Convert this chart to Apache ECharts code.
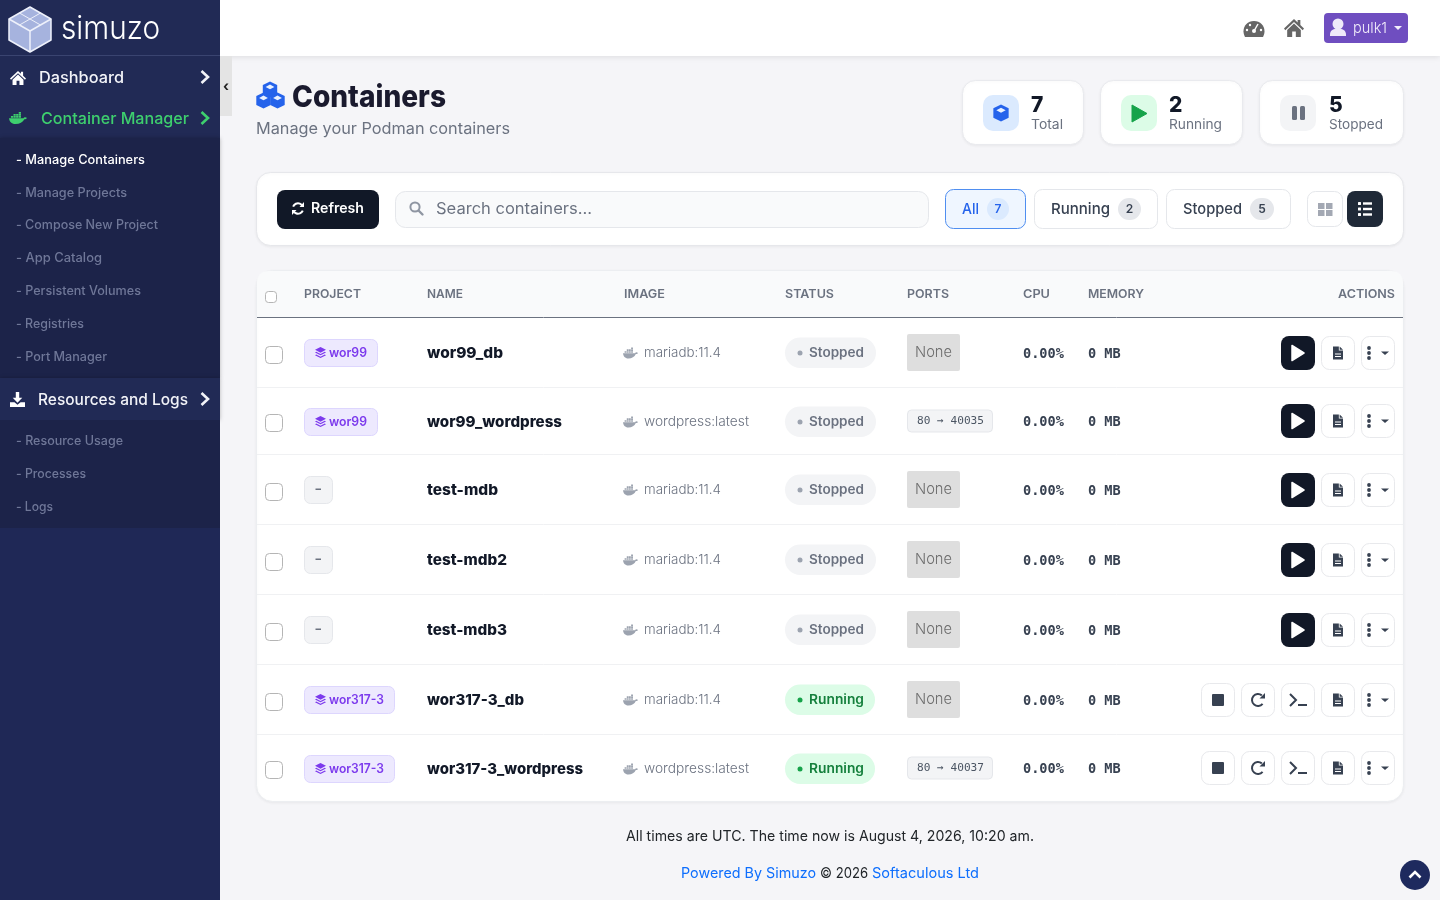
<!DOCTYPE html>
<html><head><meta charset="utf-8">
<style>html,body{margin:0;padding:0;background:#f5f5f8;overflow:hidden}#c{width:1440px;height:900px}</style>
<script src="https://cdn.jsdelivr.net/npm/echarts@6/dist/echarts.min.js"></script>
</head><body><div id="c"></div>
<script>
// ---- data ----
const projects = ['wor99','wor99','-','-','-','wor317-3','wor317-3'];
const names = ['wor99_db','wor99_wordpress','test-mdb','test-mdb2','test-mdb3','wor317-3_db','wor317-3_wordpress'];
const images = ['mariadb:11.4','wordpress:latest','mariadb:11.4','mariadb:11.4','mariadb:11.4','mariadb:11.4','wordpress:latest'];
const statuses = ['Stopped','Stopped','Stopped','Stopped','Stopped','Running','Running'];
const ports = ['None','80 → 40035','None','None','None','None','80 → 40037'];
const cpu = ['0.00%','0.00%','0.00%','0.00%','0.00%','0.00%','0.00%'];
const memory = ['0 MB','0 MB','0 MB','0 MB','0 MB','0 MB','0 MB'];
const columns = ['PROJECT','NAME','IMAGE','STATUS','PORTS','CPU','MEMORY','ACTIONS'];
const subMenuA = ['Manage Containers','Manage Projects','Compose New Project','App Catalog','Persistent Volumes','Registries','Port Manager'];
const subMenuB = ['Resource Usage','Processes','Logs'];
const summaryValues = ['7','2','5'];
const summaryLabels = ['Total','Running','Stopped'];
const filters = ['All','Running','Stopped'];

// ---- layout ----
const rowY = [353,421,490,560,630,700,768];
const textRowY = [352,421,489,559,629,699,768];
const rowLines = [387,454,524,594,664,734];
const nameW = [76,135,71,80,80,97,156];
const columnX = [[304,57],[427,36],[624,41],[785,49],[907,42],[1023,27],[1088,56],[1338,57]];
const subW = {a:[129,111,142,86,125,68,91], b:[107,70,37]};
const subYa = [159,192,224,257,290,323,356], subYb = [440,473,506];

const UI='Inter, "Noto Sans", sans-serif', MONO='"DejaVu Sans Mono", monospace';
const els=[];
const mctx=document.createElement('canvas').getContext('2d');
function add(e){e.silent=true;e.z2=els.length;els.push(e);return e;}
function rect(x0,y0,x1,y1,r,fill,stroke,sh){
  const st={fill:fill||'transparent'};
  if(stroke){st.stroke=stroke;st.lineWidth=1;}
  if(sh){st.shadowBlur=sh[0];st.shadowColor=sh[1];st.shadowOffsetY=sh[2]||0;}
  const o=stroke?0.5:0;
  add({type:'rect',shape:{x:x0+o,y:y0+o,width:x1-x0-2*o,height:y1-y0-2*o,r:r||0},style:st});
}
function txt(s,x,y,o){
  o=o||{};
  const size=o.size||14,weight=o.weight||400,font=o.font||UI;
  let scaleX=1;
  if(o.w){mctx.font=weight+' '+size+'px '+font;scaleX=o.w/mctx.measureText(s).width;}
  add({type:'text',x:x,y:y+1,scaleX:scaleX,originX:0,originY:0,style:{text:s,x:0,y:0,fontSize:size,fontWeight:weight,fontFamily:font,fill:o.color||'#111827',textAlign:o.align||'left',textVerticalAlign:'middle'}});
}
function icon(d,x0,y0,x1,y1,color){
  add({type:'path',shape:{pathData:d,layout:'cover',x:x0,y:y0,width:x1-x0,height:y1-y0},style:{fill:color}});
}
function poly(pts,fill,stroke,lw){
  add({type:'polygon',shape:{points:pts},style:{fill:fill||'transparent',stroke:stroke||null,lineWidth:lw||1,lineJoin:'round'}});
}
function line(x0,y0,x1,y1,c,lw,cap){
  add({type:'line',shape:{x1:x0,y1:y0,x2:x1,y2:y1},style:{stroke:c,lineWidth:lw||1,lineCap:cap||'butt'}});
}
function chevron(cx,cy,c){
  add({type:'polyline',shape:{points:[[cx-3.5,cy-6],[cx+3,cy],[cx-3.5,cy+6]]},style:{stroke:c,lineWidth:2.6,fill:'transparent'}});
}
function circle(cx,cy,r,c){add({type:'circle',shape:{cx,cy,r},style:{fill:c}});}
function cube(cx,cy,s,c,face){
  const h=s*0.55;
  poly([[cx,cy-s],[cx+s*0.9,cy-h],[cx+s*0.9,cy+h],[cx,cy+s],[cx-s*0.9,cy+h],[cx-s*0.9,cy-h]],c);
  poly([[cx,cy-s*0.62],[cx+s*0.55,cy-s*0.32],[cx,cy-s*0.02],[cx-s*0.55,cy-s*0.32]],face||'#fff');
}
const HOME='M12 3 L1 12.6 L2.4 14.2 L12 5.9 L21.6 14.2 L23 12.6 L19 9.1 V4 H16 V6.5 Z M12 7.6 L4.5 14.1 V21 H10 V15.5 H14 V21 H19.5 V14.1 Z';
const WHALE='M0.5 11 H19.5 C20 9 22.5 9 24 10.6 C23 12.2 21.5 12.6 20.6 12.4 C18.5 17 14.5 19.5 9 19.5 C3.5 19.5 1 15.5 0.5 11 Z M3 7.8h2.9v2.6H3z M6.4 7.8h2.9v2.6H6.4z M9.8 7.8h2.9v2.6H9.8z M13.2 7.8h2.9v2.6h-2.9z M6.4 4.8h2.9v2.6H6.4z M9.8 4.8h2.9v2.6H9.8z M13.2 4.8h2.9v2.6h-2.9z M13.2 1.8h2.9v2.6h-2.9z';
const DOC='M0 0 H7 V5 H12 V16 H0 Z M8 0 L12 4 H8 Z';
const LAYERS='M12 1 L23 6.5 L12 12 L1 6.5 Z M3.5 10.4 L12 14.6 L20.5 10.4 L23 11.8 L12 17.3 L1 11.8 Z M3.5 15.7 L12 19.9 L20.5 15.7 L23 17 L12 22.5 L1 17 Z';

// ---- page ----
rect(0,0,1440,900,0,'#f5f5f8');
rect(220,0,1440,56,0,'#ffffff',null,[6,'rgba(0,0,0,0.10)',1]);
rect(220,56,232,116,0,'#e4e4e4');
txt('‹',226,86,{size:14,weight:700,align:'center',color:'#222'});

// ---- sidebar ----
rect(0,0,220,900,0,'#1f2856');
rect(0,0,220,55,0,'#212a55');
line(0,55.5,220,55.5,'#3a4470',1);
poly([[30,7],[51,19],[51,40],[30,52],[9,40],[9,19]],'#a6b3de','#eef1fb',1.5);
line(30,31,30,52,'#eef1fb',1.5);line(9,19,30,31,'#eef1fb',1.5);line(51,19,30,31,'#eef1fb',1.5);
line(19.5,13,40.5,25,'#eef1fb',1);line(40.5,13,19.5,25,'#eef1fb',1);
txt('simuzo',61,28.5,{size:33,weight:300,color:'#ffffff',w:99});
rect(0,56,220,138,0,'#212a55');
icon(HOME,10,71,26,85,'#ffffff');
txt('Dashboard',39,77,{size:16,weight:500,color:'#f2f3f8',w:85});
chevron(205,77,'#f2f3f8');
icon(WHALE,9,112,27,124,'#3ecf6e');
txt('Container Manager',41,118,{size:16,weight:500,color:'#3ecf6e',w:148});
chevron(205,118,'#3ecf6e');
rect(0,138,220,378,0,'#1c2349',null,[4,'rgba(0,0,0,0.25)',0]);
subMenuA.forEach((s,i)=>txt('- '+s,16,subYa[i],{size:12.5,weight:500,color:i===0?'#ffffff':'#6f7798',w:subW.a[i]}));
rect(0,378,220,420,0,'#212a55',null,[4,'rgba(0,0,0,0.25)',0]);
icon('M9.5 1 H14.5 V9 H19 L12 16 L5 9 H9.5 Z M1 15.5 H7.5 L12 19 L16.5 15.5 H23 V22 H1 Z',10,392,25,407,'#ffffff');
txt('Resources and Logs',38,399,{size:16,weight:500,color:'#f2f3f8',w:150});
chevron(205,399,'#f2f3f8');
rect(0,420,220,528,0,'#1c2349');
subMenuB.forEach((s,i)=>txt('- '+s,16,subYb[i],{size:12.5,weight:500,color:'#6f7798',w:subW.b[i]}));

// ---- top nav ----
icon('M12 3 C5.5 3 1 8 1 14 C1 16.5 1.8 18.5 2.6 20 H21.4 C22.2 18.5 23 16.5 23 14 C23 8 18.5 3 12 3 Z',1243.5,21,1264.5,37,'#666');
line(1254,31,1258,24,'#fff',1.5);circle(1254,31,2,'#fff');circle(1247,30,1.2,'#fff');circle(1250,25,1.2,'#fff');circle(1261,30,1.2,'#fff');
icon(HOME,1284,19,1304,37,'#666');
rect(1324,13,1408,43,4,'#6f4ec0');
circle(1338,24,5.5,'#efeaf9');
icon('M0 10 C0 4 4 2 7 2 H13 C16 2 20 4 20 10 V12 H0 Z',1330,29,1346,36,'#efeaf9');
txt('pulk1',1353,27.5,{size:15,weight:300,color:'#f2eefb',w:34});
poly([[1394,26],[1402,26],[1398,30]],'#f2eefb');

// ---- heading ----
cube(270,89.5,8,'#2563eb','#eaf2ff');cube(263.5,100.5,8,'#2563eb','#eaf2ff');cube(277.5,100.5,8,'#2563eb','#eaf2ff');
txt('Containers',292,97,{size:30,weight:800,color:'#1a1a2e',w:154});
txt('Manage your Podman containers',256,128.5,{size:16,color:'#6b7280',w:254});

// ---- summary cards ----
const cardSh=[3,'rgba(0,0,0,0.05)',1];
[[962,1084],[1100,1243],[1259,1404]].forEach((c,i)=>{
  rect(c[0],80,c[1],145,13,'#ffffff','#e9eaee',cardSh);
  const bx=c[0]+21;
  rect(bx,95,bx+36,131,10,['#dbeafe','#dcfce7','#f3f4f6'][i]);
  const tx=bx+48+(i===2?1:0);
  txt(summaryValues[i],tx,105,{size:21,weight:800,color:'#111827'});
  txt(summaryLabels[i],tx,124,{size:13.5,color:'#6b7280',w:[32,53,54][i]});
});
cube(1001,113,8.5,'#2563eb','#eaf2ff');
poly([[1132,105],[1147,113.5],[1132,122]],'#16a34a','#16a34a',1);
rect(1292,106,1297,120,1.5,'#6b7280');rect(1300,106,1305,120,1.5,'#6b7280');

// ---- toolbar ----
rect(256,172,1404,246,14,'#ffffff','#e6e7eb',cardSh);
rect(277,190,379,229,8,'#111827');
add({type:'arc',shape:{cx:298,cy:208.5,r:5.2,startAngle:3.5,endAngle:5.7},style:{stroke:'#fff',lineWidth:2,fill:'transparent'}});
add({type:'arc',shape:{cx:298,cy:208.5,r:5.2,startAngle:0.4,endAngle:2.6},style:{stroke:'#fff',lineWidth:2,fill:'transparent'}});
poly([[304,202],[304,207],[299.5,207]],'#fff');poly([[292,215],[292,210],[296.5,210]],'#fff');
txt('Refresh',311,207.5,{size:14,weight:600,color:'#ffffff',w:53});
rect(395,191,929,228,10,'#f9fafb','#e5e7eb');
add({type:'circle',shape:{cx:415,cy:207,r:4.6},style:{stroke:'#8f96a2',lineWidth:2,fill:'transparent'}});
line(418.5,210.5,422.5,214.5,'#8f96a2',2.4,'round');
txt('Search containers...',436,208.5,{size:16,color:'#6b7280',w:156});
rect(945,189,1026,229,8,'#eff6ff','#4f8ef0');
txt(filters[0],962,208.5,{size:15,weight:500,color:'#2563eb',w:17});
rect(987,198,1009,220,11,'#dbeafe');
txt(summaryValues[0],998,208,{size:12,weight:600,color:'#2563eb',align:'center'});
rect(1034,189,1158,229,8,'#ffffff','#e5e7eb');
txt(filters[1],1051,208.5,{size:15,weight:500,color:'#374151',w:59});
rect(1118,198,1141,220,11,'#e5e7eb');
txt(summaryValues[1],1129.5,208,{size:12,weight:600,color:'#374151',align:'center'});
rect(1166,189,1291,229,8,'#ffffff','#e5e7eb');
txt(filters[2],1183,208.5,{size:15,weight:500,color:'#374151',w:59});
rect(1250,198,1274,220,11,'#e5e7eb');
txt(summaryValues[2],1262,208,{size:12,weight:600,color:'#374151',align:'center'});
rect(1307,191,1343,227,8,'#ffffff','#e5e7eb');
[[1318,203],[1326,203],[1318,210],[1326,210]].forEach(p=>rect(p[0],p[1],p[0]+6.5,p[1]+6,0,'#a3a8b3'));
rect(1347,191,1383,227,8,'#1f2937');
[203.5,209,214.5].forEach(y=>{rect(1358,y-1.5,1361,y+1.5,0.5,'#fff');rect(1363,y-1.2,1372,y+1.2,0,'#fff');});

// ---- table ----
rect(256,270,1404,802,16,'#ffffff','#eceef1',[3,'rgba(0,0,0,0.05)',1]);
icon('M0 46 V12 Q0 0 12 0 H1134 Q1146 0 1146 12 V46 Z',257,271,1403,317,'#f9fafb');
line(257,317.5,1403,317.5,'#6b7280',1);
rect(265,291,277,303,3,'#ffffff','#b5b5b5');
columns.forEach((c,i)=>txt(c,columnX[i][0],293,{size:12,weight:600,color:'#6b7280',w:columnX[i][1]}));
rowLines.forEach(y=>line(257,y+0.5,1403,y+0.5,'#f0f1f3',1));
function actBtn(x,y,dark){rect(x,y-17,x+34,y+17,8,dark?'#111827':'#ffffff',dark?null:'#e8e9ec');}
names.forEach((n,i)=>{
  const y=rowY[i],ty=textRowY[i];
  rect(265,y-7,283,y+11,4,'#ffffff','#b5b5b5');
  // project
  const p=projects[i];
  if(p==='-'){
    rect(304,ty-13,333,ty+15,6,'#f3f4f6','#e5e7eb');
    rect(315.5,ty-0.5,321,ty+1,0,'#6b7280');
  }else{
    const w=p.length>5?91:74, tw=p.length>5?55:38;
    rect(304,ty-13,304+w,ty+15,6,'#ede9fe','#ddd6fe');
    icon(LAYERS,315,ty-5,326,ty+6,'#7c3aed');
    txt(p,329,ty,{size:12.5,weight:600,color:'#7c3aed',w:tw});
  }
  txt(n,427,ty,{size:15,weight:800,color:'#111827',w:nameW[i]});
  icon(WHALE,623,ty-4.5,638,ty+6.5,'#9ca3af');
  txt(images[i],644,ty,{size:13.5,weight:300,color:'#6b7280',w:images[i][0]==='m'?77:105});
  // status
  const run=statuses[i]==='Running';
  rect(785,ty-14.5,run?875:876,ty+16,15.5,run?'#dcfce7':'#f3f4f6');
  circle(800,ty+1,2.5,run?'#16a34a':'#9ca3af');
  txt(statuses[i],809,ty,{size:13,weight:600,color:run?'#15803d':'#6b7280',w:55});
  // ports
  if(ports[i]==='None'){
    rect(907,ty-18,960,ty+19,2,'#dedede');
    txt('None',915,ty-0.5,{size:15,weight:300,color:'#6c6c6c',w:37});
  }else{
    rect(907,ty-11.5,993,ty+11.5,4,'#f3f4f6','#e5e7eb');
    txt(ports[i],917,ty-0.5,{size:11,weight:400,font:MONO,color:'#4b5563',w:67});
  }
  txt(cpu[i],1023,y,{size:13.6,weight:700,font:MONO,color:'#374151'});
  txt(memory[i],1088,y,{size:13.6,weight:700,font:MONO,color:'#374151'});
  // actions
  if(run){
    actBtn(1201,y);rect(1212,y-6,1224,y+6,1,'#374151');
    actBtn(1241,y);
    add({type:'arc',shape:{cx:1258,cy:y,r:6,startAngle:0.7,endAngle:5.4,clockwise:true},style:{stroke:'#374151',lineWidth:2,fill:'transparent'}});
    poly([[1265,y-7],[1265,y-1.5],[1259.5,y-1.5]],'#374151');
    actBtn(1281,y);
    add({type:'polyline',shape:{points:[[1290,y-6],[1296,y],[1290,y+6]]},style:{stroke:'#374151',lineWidth:2,fill:'transparent'}});
    rect(1298,y+4,1307,y+6,0,'#374151');
  }else{
    actBtn(1281,y,true);poly([[1292,y-7.5],[1304,y],[1292,y+7.5]],'#ffffff','#ffffff',1.5);
  }
  actBtn(1321,y);
  icon(DOC,1333,y-6.5,1343,y+6.5,'#374151');
  rect(1335,y+0.5,1341,y+1.5,0,'#ffffff');rect(1335,y+3,1341,y+4,0,'#ffffff');
  rect(1361,y-17,1395,y+17,8,'#ffffff','#e8e9ec');
  [-5,0,5].forEach(d=>circle(1369,y+d,1.9,'#374151'));
  poly([[1381,y-1.5],[1389,y-1.5],[1385,y+2]],'#374151');
});

// ---- footer ----
txt('All times are UTC. The time now is August 4, 2026, 10:20 am.',626,835.5,{size:14.5,color:'#212529',w:408});
txt('Powered By Simuzo',681,872.5,{size:14.5,color:'#0d6efd',w:135});
txt('© 2026',820,872.5,{size:14.5,color:'#212529',w:48});
txt('Softaculous Ltd',872,872.5,{size:14.5,color:'#0d6efd',w:107});
circle(1415,875,15,'#1e2a5e');
add({type:'polyline',shape:{points:[[1409.5,877.5],[1415,872],[1420.5,877.5]]},style:{stroke:'#fff',lineWidth:2.6,fill:'transparent'}});

const chart=echarts.init(document.getElementById('c'),null,{renderer:'canvas',width:1440,height:900});
chart.setOption({animation:false,series:[{type:'custom',coordinateSystem:'none',silent:true,clip:false,data:[[0]],
  renderItem:()=>({type:'group',children:els})}]});
</script></body></html>
